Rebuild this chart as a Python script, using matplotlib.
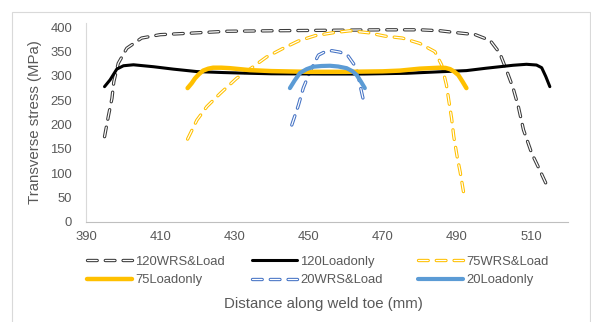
import matplotlib
matplotlib.use("Agg")
import matplotlib.pyplot as plt
import matplotlib.patheffects as pe
from matplotlib.patches import Rectangle

plt.rcParams['font.family'] = ['Liberation Sans', 'DejaVu Sans']
plt.rcParams['lines.scale_dashes'] = False

# ---- data: transverse stress along the weld toe ----
x_120wrs = [395, 396, 397, 397.5, 398.7, 401, 405, 410, 418, 428, 440, 455, 470, 480,
            485.5, 490, 495, 499, 501.6, 503.4, 505.2, 506.6, 508, 510.2, 512.4, 514.7]
y_120wrs = [175, 216, 254, 288, 326, 357, 378, 385, 388, 392, 393, 394, 395, 395,
            393, 389, 385, 373, 347, 312, 275, 237, 189, 141, 106, 68]

x_120load = [395, 396.5, 398.3, 400.1, 402.8, 408.2, 413.6, 419.9, 427, 434.2, 440, 454,
             465, 476.5, 483.7, 492.6, 498, 501.6, 505.2, 508.8, 511.5, 512.9, 514, 515.1]
y_120load = [278, 292, 314, 321, 323, 319, 314, 309, 307, 305.5, 304.5, 304,
             304, 305.5, 308, 311, 316, 319, 322, 324, 322.5, 317, 299, 278]

x_75wrs = [417.4, 419.9, 422.6, 426.2, 430.6, 435.1, 438.7, 443.2, 447.3, 451.8, 456.7,
           461.2, 466.1, 470.6, 475.3, 480, 484.1, 485.9, 487.2, 487.9, 488.6, 489.2,
           490.1, 490.9, 491.8]
y_75wrs = [170, 209, 237, 264, 295, 319, 339, 357, 372, 383, 389,
           393, 389, 382, 378, 367, 350, 323, 282, 247, 213, 175,
           134, 103, 62]

x_75load = [417.4, 418.5, 419.4, 420.5, 421.6, 423, 424.3, 426.5, 428.8, 431.5, 434.2,
            440, 450, 460, 470, 474.7, 480, 485.5, 487, 488.2, 489.3, 490.4, 491.5, 492.6]
y_75load = [275, 285, 295, 304, 311, 315, 317, 317, 316, 314, 312,
            310, 308.5, 308.5, 309.5, 311, 315, 317, 316.5, 314, 309, 302, 289, 275]

x_20wrs = [445.5, 447.3, 448.6, 450.4, 452.7, 454.5, 456.3, 458.5, 460.7, 463, 464, 465]
y_20wrs = [199, 240, 275, 309, 343, 350, 352, 349, 341, 316, 278, 244]

x_20load = [445, 446.3, 447.7, 449.5, 451.3, 453.5, 455.8, 458, 460.3, 461.8, 463, 464.1, 465.2]
y_20load = [275, 291, 306, 314, 319, 320.5, 321, 319.5, 316, 310, 302, 289, 275]

xticks = [390, 410, 430, 450, 470, 490, 510]
yticks = [0, 50, 100, 150, 200, 250, 300, 350, 400]

W, H = 591, 322
TEXT = '#595959'
fig = plt.figure(figsize=(W / 100, H / 100), dpi=100)

# chart border
fig.patches.append(Rectangle((12 / W, -0.05), (590 - 12) / W, (H - 12) / H + 0.05,
                             transform=fig.transFigure, fill=False,
                             edgecolor='#d9d9d9', linewidth=0.8))

ax = fig.add_axes([86 / W, (H - 221.7) / H, (568 - 86) / W, (221.7 - 23) / H])
ax.set_xlim(390, 520)
ax.set_ylim(0, 409)


def hollow_dash(xs, ys, color, label):
    line, = ax.plot(xs, ys, color='white', linewidth=0.9,
                    linestyle=(0, (7.0, 5.8)), dash_capstyle='round',
                    solid_capstyle='round', label=label)
    line.set_path_effects([pe.Stroke(linewidth=2.4, foreground=color), pe.Normal()])
    return line


h1 = hollow_dash(x_120wrs, y_120wrs, '#3a3a3a', '120WRS&Load')
h2, = ax.plot(x_120load, y_120load, color='black', linewidth=2.2,
              solid_capstyle='round', label='120Loadonly')
h3 = hollow_dash(x_75wrs, y_75wrs, '#ffc000', '75WRS&Load')
h4, = ax.plot(x_75load, y_75load, color='#ffc000', linewidth=3.2,
              solid_capstyle='round', label='75Loadonly')
h5 = hollow_dash(x_20wrs, y_20wrs, '#4472c4', '20WRS&Load')
h6, = ax.plot(x_20load, y_20load, color='#5b9bd5', linewidth=3.0,
              solid_capstyle='round', label='20Loadonly')

# solid lines sit above dashed ones where they overlap
for z, h in zip([2, 3, 2, 4, 2, 5], [h1, h2, h3, h4, h5, h6]):
    h.set_zorder(z)

ax.set_xticks(xticks)
ax.set_yticks(yticks)
ax.tick_params(length=0, labelsize=9.4, colors=TEXT)
ax.tick_params(axis='y', pad=10)
ax.tick_params(axis='x', pad=7)
for s in ['top', 'right']:
    ax.spines[s].set_visible(False)
ax.spines['left'].set_color('#d9d9d9')
ax.spines['bottom'].set_color('#bfbfbf')
ax.spines['left'].set_linewidth(0.8)
ax.spines['bottom'].set_linewidth(0.8)

fig.text(35 / W, 1 - 122 / H, 'Transverse stress (MPa)', rotation=90,
         ha='center', va='center', fontsize=10.8, color=TEXT)
fig.text(323 / W, 1 - 304 / H, 'Distance along weld toe (mm)',
         ha='center', va='center', fontsize=10.8, color=TEXT)

# legend: three columns of two entries
cols = [(87, [h1, h4]), (252, [h2, h5]), (418, [h3, h6])]
for xpx, hs in cols:
    leg = fig.legend(handles=hs, loc='upper left',
                     bbox_to_anchor=(xpx / W, 1 - 255.5 / H),
                     frameon=False, fontsize=9.4, handlelength=3.45,
                     handletextpad=0.26, labelspacing=0.5, borderpad=0,
                     borderaxespad=0)
    for t in leg.get_texts():
        t.set_color(TEXT)

fig.savefig('out.png', dpi=100)
